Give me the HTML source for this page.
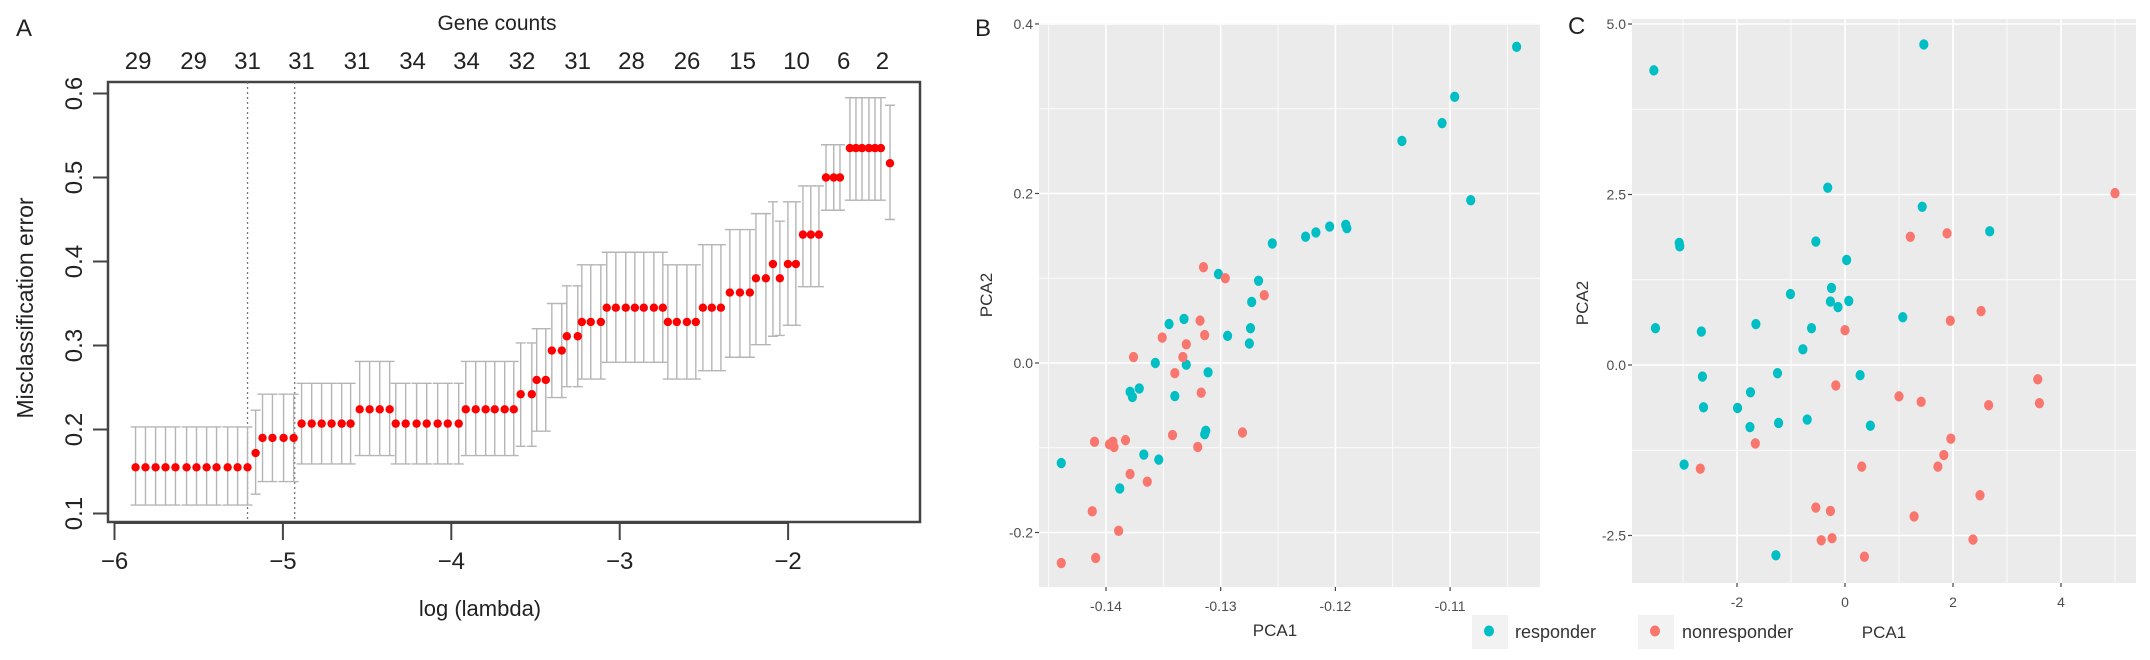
<!DOCTYPE html>
<html><head><meta charset="utf-8">
<style>
html,body{margin:0;padding:0;background:#fff;}
svg{display:block;}
text{font-family:"Liberation Sans",Arial,sans-serif;}
</style></head>
<body>
<svg id="fig" width="2150" height="660" viewBox="0 0 2150 660" xmlns="http://www.w3.org/2000/svg"></svg>
<script>
// ===== Panel A data =====
const lassoLogLambda = [-5.875,-5.816,-5.756,-5.697,-5.638,-5.572,-5.513,-5.453,-5.394,-5.328,-5.269,-5.210,
 -5.162,-5.121,-5.062,-4.996,-4.936,-4.889,-4.829,-4.770,-4.711,-4.651,-4.598,-4.544,-4.485,-4.425,-4.366,
 -4.330,-4.271,-4.206,-4.146,-4.081,-4.021,-3.956,-3.914,-3.855,-3.796,-3.742,-3.683,-3.629,-3.588,-3.522,
 -3.493,-3.439,-3.403,-3.344,-3.314,-3.249,-3.225,-3.172,-3.112,-3.077,-3.023,-2.964,-2.910,-2.857,-2.797,-2.744,
 -2.714,-2.661,-2.601,-2.548,-2.506,-2.453,-2.399,-2.346,-2.286,-2.227,-2.191,-2.132,-2.090,-2.049,-2.001,-1.954,
 -1.912,-1.865,-1.817,-1.775,-1.729,-1.692,-1.633,-1.597,-1.561,-1.520,-1.484,-1.449,-1.395];
const lassoGroupErr   = [0.155,0.172,0.19,0.207,0.224,0.207,0.224,0.242,0.259,0.294,0.311,0.328,0.345,0.328,0.345,0.363,0.38,0.397,0.38,0.397,0.432,0.5,0.535,0.517];
const lassoGroupUpper = [0.203,0.223,0.242,0.255,0.281,0.255,0.281,0.303,0.320,0.350,0.371,0.396,0.411,0.396,0.420,0.438,0.457,0.471,0.448,0.471,0.490,0.539,0.595,0.586];
const lassoGroupLower = [0.110,0.123,0.138,0.159,0.169,0.159,0.169,0.180,0.198,0.238,0.251,0.260,0.280,0.260,0.270,0.286,0.301,0.311,0.312,0.324,0.370,0.461,0.473,0.450];
const lassoGroupSize  = [12,1,4,6,4,7,6,2,2,2,2,3,7,4,3,3,2,1,1,2,3,3,6,1];
const lassoXTicks = [-6,-5,-4,-3,-2];
const lassoYTicks = [0.1,0.2,0.3,0.4,0.5,0.6];
const geneCounts = ["29","29","31","31","31","34","34","32","31","28","26","15","10","6","2"];
const geneCountLogLambda = [-5.86,-5.53,-5.21,-4.89,-4.56,-4.23,-3.91,-3.58,-3.25,-2.93,-2.60,-2.27,-1.95,-1.67,-1.44];
const lambdaMin = -5.21, lambda1se = -4.93;

// ===== Panel B data =====
const bRespX = [-0.1439,-0.1388,-0.1379,-0.1377,-0.1371,-0.1367,-0.1354,-0.1357,-0.1345,-0.1340,-0.1332,-0.1330,-0.1311,-0.1314,-0.1313,-0.1302,-0.1294,-0.1275,-0.1274,-0.1273,-0.1267,-0.1255,-0.1226,-0.1217,-0.1205,-0.1191,-0.1190,-0.1142,-0.1107,-0.1096,-0.1082,-0.1042];
const bRespY = [-0.118,-0.148,-0.034,-0.040,-0.030,-0.108,-0.114,0.0,0.046,-0.039,0.052,-0.002,-0.011,-0.084,-0.080,0.105,0.032,0.023,0.041,0.072,0.097,0.141,0.149,0.154,0.161,0.163,0.159,0.262,0.283,0.314,0.192,0.373];
const bNonX = [-0.1439,-0.1412,-0.1409,-0.1410,-0.1397,-0.1394,-0.1393,-0.1383,-0.1389,-0.1379,-0.1364,-0.1376,-0.1351,-0.1342,-0.1340,-0.1333,-0.1330,-0.1318,-0.1314,-0.1317,-0.1320,-0.1315,-0.1296,-0.1262,-0.1281];
const bNonY = [-0.236,-0.175,-0.230,-0.093,-0.096,-0.093,-0.099,-0.091,-0.198,-0.131,-0.140,0.007,0.030,-0.085,-0.012,0.007,0.022,0.050,0.033,-0.035,-0.099,0.113,0.100,0.080,-0.082];
const bXTicks = [-0.14,-0.13,-0.12,-0.11];
const bXTickLabels = ["-0.14","-0.13","-0.12","-0.11"];
const bYTicks = [-0.2,0.0,0.2,0.4];
const bYTickLabels = ["-0.2","0.0","0.2","0.4"];

// ===== Panel C data =====
const cRespX = [-3.54,1.46,-0.32,1.43,2.68,-3.07,-3.06,-0.54,0.03,-1.01,-0.25,-0.27,-0.13,0.07,1.07,-3.51,-2.66,-1.65,-0.62,-0.78,-2.64,-1.25,0.28,-1.75,-2.62,-1.99,-1.76,-1.23,-0.70,0.47,-2.98,-1.28];
const cRespY = [4.32,4.70,2.60,2.32,1.96,1.79,1.74,1.81,1.54,1.04,1.13,0.93,0.85,0.94,0.70,0.54,0.49,0.60,0.54,0.23,-0.17,-0.12,-0.15,-0.40,-0.62,-0.63,-0.91,-0.85,-0.80,-0.89,-1.46,-2.79];
const cNonX = [5.00,1.21,1.89,2.52,1.95,0.0,-0.17,1.00,1.41,2.66,3.57,3.60,-1.66,1.96,1.83,1.72,0.31,-2.68,2.50,-0.54,-0.27,1.28,-0.44,-0.24,2.37,0.36];
const cNonY = [2.52,1.88,1.93,0.79,0.65,0.51,-0.30,-0.46,-0.54,-0.59,-0.21,-0.56,-1.15,-1.08,-1.32,-1.49,-1.49,-1.52,-1.91,-2.09,-2.14,-2.22,-2.57,-2.54,-2.56,-2.81];
const cXTicks = [-2,0,2,4];
const cXTickLabels = ["-2","0","2","4"];
const cYTicks = [-2.5,0.0,2.5,5.0];
const cYTickLabels = ["-2.5","0.0","2.5","5.0"];

const NS = "http://www.w3.org/2000/svg";
const svg = document.getElementById('fig');
function mk(tag, attrs, parent, txt){
  const e = document.createElementNS(NS, tag);
  for (const k in attrs) e.setAttribute(k, attrs[k]);
  if (txt !== undefined) e.textContent = txt;
  (parent||svg).appendChild(e);
  return e;
}
const TEAL = "#00BFC4", SALMON = "#F8766D";

// ===== Panel A =====
const ax = v => 114.5 + (v + 6) * 168.4;
const ay = v => 93.5 + (0.6 - v) * 840;
const gA = mk('g', {});  
let t;
t = mk('text',{x:16,y:36,'font-size':24,'font-family':'Liberation Serif, serif',fill:'#222'},gA,'A');
 
t = mk('text',{x:497,y:30,'font-size':21,'text-anchor':'middle',fill:'#222'},gA,'Gene counts');
 
geneCounts.forEach((g,i)=>{
  const e = mk('text',{x:ax(geneCountLogLambda[i]),y:69,'font-size':24,'text-anchor':'middle',fill:'#222'},gA,g);
   
});
// box
t = mk('rect',{x:108,y:82,width:812,height:440,fill:'none',stroke:'#444','stroke-width':2.5},gA);
 
// dotted lines
[lambdaMin, lambda1se].forEach(v=>{
  const e = mk('line',{x1:ax(v),x2:ax(v),y1:82,y2:522,stroke:'#777','stroke-width':1.3,'stroke-dasharray':'2,3'},gA);
   
});
// error bars & points
let idx = 0;
const pts = [];
lassoGroupSize.forEach((n,gi)=>{
  for(let k=0;k<n;k++){ pts.push([lassoLogLambda[idx], lassoGroupErr[gi], lassoGroupUpper[gi], lassoGroupLower[gi]]); idx++; }
});
pts.forEach(p=>{
  const x = ax(p[0]);
  const e = mk('path',{d:`M${x},${ay(p[2])}V${ay(p[3])}M${x-5},${ay(p[2])}H${x+5}M${x-5},${ay(p[3])}H${x+5}`,stroke:'#b5b5b5','stroke-width':1.4,fill:'none'},gA);
   
});
pts.forEach(p=>{
  const e = mk('circle',{cx:ax(p[0]),cy:ay(p[1]),r:4.2,fill:'#f00'},gA);
   
});
// x axis
t = mk('line',{x1:ax(-6),x2:ax(-2),y1:523,y2:523,stroke:'#444','stroke-width':2},gA);
 
lassoXTicks.forEach(v=>{
  const e = mk('line',{x1:ax(v),x2:ax(v),y1:522,y2:540,stroke:'#444','stroke-width':2},gA);
   
  const l = mk('text',{x:ax(v),y:569,'font-size':24,'text-anchor':'middle',fill:'#222'},gA,'\u2212'+Math.abs(v));
   
});
t = mk('text',{x:480,y:616,'font-size':22,'text-anchor':'middle',fill:'#222'},gA,'log (lambda)');
 
lassoYTicks.forEach(v=>{
  const y = ay(v);
  const e = mk('line',{x1:93,x2:108,y1:y,y2:y,stroke:'#444','stroke-width':2},gA);
   
  const l = mk('text',{x:0,y:0,'font-size':24,'text-anchor':'middle',fill:'#222',transform:`translate(82,${y}) rotate(-90)`},gA,v.toFixed(1));
   
});
t = mk('text',{x:0,y:0,'font-size':23,'text-anchor':'middle',fill:'#222',transform:'translate(33,308) rotate(-90)'},gA,'Misclassification error');
 

// ===== ggplot scatter helper =====
function scatter(opts){
  const g = mk('g',{});
   
  const {L,R,T,B} = opts;
  const bg = mk('rect',{x:L,y:T,width:R-L,height:B-T,fill:'#EBEBEB'},g);
   
  opts.xMinor.forEach(v=>{ const e=mk('line',{x1:opts.sx(v),x2:opts.sx(v),y1:T,y2:B,stroke:'#fff','stroke-width':0.8},g);  });
  opts.yMinor.forEach(v=>{ const e=mk('line',{x1:L,x2:R,y1:opts.sy(v),y2:opts.sy(v),stroke:'#fff','stroke-width':0.8},g);  });
  opts.xTicks.forEach((v,i)=>{
    const x=opts.sx(v);
    const e=mk('line',{x1:x,x2:x,y1:T,y2:B,stroke:'#fff','stroke-width':1.6},g);  
    const tk=mk('line',{x1:x,x2:x,y1:B,y2:B+4,stroke:'#444','stroke-width':1.2},g);  
    const l=mk('text',{x:x,y:B+24,'font-size':14,'text-anchor':'middle',fill:'#4d4d4d'},g,opts.xLabels[i]);  
  });
  opts.yTicks.forEach((v,i)=>{
    const y=opts.sy(v);
    const e=mk('line',{x1:L,x2:R,y1:y,y2:y,stroke:'#fff','stroke-width':1.6},g);  
    const tk=mk('line',{x1:L-4,x2:L,y1:y,y2:y,stroke:'#444','stroke-width':1.2},g);  
    const l=mk('text',{x:L-6,y:y+5,'font-size':14,'text-anchor':'end',fill:'#4d4d4d'},g,opts.yLabels[i]);  
  });
  opts.series.forEach(s=>{
    s.x.forEach((v,i)=>{
      const e=mk('ellipse',{cx:opts.sx(v),cy:opts.sy(s.y[i]),rx:4.6,ry:5.2,fill:s.color},g);
       
    });
  });
  return g;
}

// ===== Panel B =====
const bx = v => 1106 + (v + 0.14) * 11470;
const by = v => 363 - v * 847.6;
scatter({name:'pca-panel-b',L:1039,R:1540,T:23,B:587,sx:bx,sy:by,
  xTicks:bXTicks,xLabels:bXTickLabels,yTicks:bYTicks,yLabels:bYTickLabels,
  xMinor:[-0.145,-0.135,-0.125,-0.115,-0.105],yMinor:[-0.1,0.1,0.3],
  series:[{name:'responder-point-b',x:bRespX,y:bRespY,color:TEAL},{name:'nonresponder-point-b',x:bNonX,y:bNonY,color:SALMON}]});
t = mk('text',{x:975,y:36,'font-size':24,'font-family':'Liberation Serif, serif',fill:'#222'},svg,'B');
 
t = mk('text',{x:1275,y:636,'font-size':17,'text-anchor':'middle',fill:'#333'},svg,'PCA1');
 
t = mk('text',{x:0,y:0,'font-size':17,'text-anchor':'middle',fill:'#333',transform:'translate(992,295) rotate(-90)'},svg,'PCA2');
 

// ===== Panel C =====
const cx = v => 1845 + v * 54;
const cy = v => 365 - v * 68.2;
scatter({name:'pca-panel-c',L:1632,R:2136,T:19,B:583,sx:cx,sy:cy,
  xTicks:cXTicks,xLabels:cXTickLabels,yTicks:cYTicks,yLabels:cYTickLabels,
  xMinor:[-3,-1,1,3,5],yMinor:[-1.25,1.25,3.75],
  series:[{name:'responder-point-c',x:cRespX,y:cRespY,color:TEAL},{name:'nonresponder-point-c',x:cNonX,y:cNonY,color:SALMON}]});
t = mk('text',{x:1568,y:34,'font-size':24,'font-family':'Liberation Serif, serif',fill:'#222'},svg,'C');
 
t = mk('text',{x:0,y:0,'font-size':17,'text-anchor':'middle',fill:'#333',transform:'translate(1588,303) rotate(-90)'},svg,'PCA2');
 
t = mk('text',{x:1884,y:638,'font-size':17,'text-anchor':'middle',fill:'#333'},svg,'PCA1');
 

// ===== Legend =====
const lg = mk('g',{});  
const legendItems = [["responder",TEAL,1472,1515],["nonresponder",SALMON,1638,1682]];
legendItems.forEach(it=>{
  const ent = mk('g',{},lg);  
  const b = mk('rect',{x:it[2],y:615,width:36,height:34,fill:'#F2F2F2'},ent);  
  const d = mk('ellipse',{cx:it[2]+17,cy:631,rx:5,ry:5.5,fill:it[1]},ent);  
  const l = mk('text',{x:it[3],y:638,'font-size':18,fill:'#333'},ent,it[0]);  
});
</script>
</body></html>
